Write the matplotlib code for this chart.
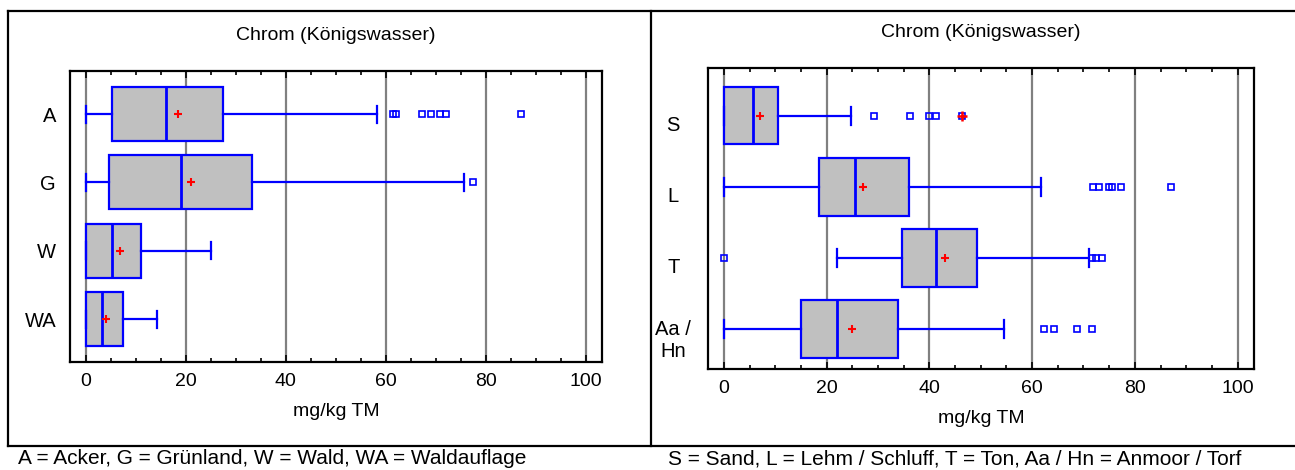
import numpy as np
import matplotlib
matplotlib.use("Agg")
import matplotlib.pyplot as plt
from matplotlib.lines import Line2D
from matplotlib.transforms import ScaledTranslation

plt.rcParams["font.family"] = ["Liberation Sans", "DejaVu Sans"]
plt.rcParams["font.size"] = 14

# ---------------------------------------------------------------------------
# Daten (mg/kg TM)
# ---------------------------------------------------------------------------
TITLE = "Chrom (Königswasser)"
XLABEL = "mg/kg TM"

# links: Nutzung
use_labels = ["A", "G", "W", "WA"]
use_whislo = [0.0, 0.0, 0.0, 0.0]
use_q1 = [5.3, 4.6, 0.0, 0.0]
use_med = [16.1, 19.0, 5.3, 3.3]
use_mean = [18.5, 21.1, 6.8, 4.1]
use_q3 = [27.4, 33.3, 11.0, 7.4]
use_whishi = [58.3, 75.7, 25.0, 14.3]
use_fliers = [[61.5, 62.0, 67.3, 69.1, 70.9, 72.0, 87.0], [77.4], [], []]
use_far = [[], [], [], []]

# rechts: Bodenart
soil_labels = ["S", "L", "T", "Aa /\nHn"]
soil_whislo = [0.0, 0.0, 22.0, 0.0]
soil_q1 = [0.0, 18.6, 34.6, 15.0]
soil_med = [5.6, 25.6, 41.3, 22.0]
soil_mean = [7.1, 27.1, 43.0, 24.9]
soil_q3 = [10.6, 36.1, 49.3, 33.9]
soil_whishi = [24.7, 61.7, 71.0, 54.6]
soil_fliers = [[29.3, 36.3, 40.0, 41.2, 46.4],
               [71.9, 73.0, 75.0, 75.5, 77.3, 87.0],
               [0.0, 71.7, 72.4, 73.7],
               [62.3, 64.3, 68.7, 71.7]]
soil_far = [[46.4], [], [], []]

CAPTION_LEFT = "A = Acker, G = Grünland, W = Wald, WA = Waldauflage"
CAPTION_RIGHT = "S = Sand, L = Lehm / Schluff, T = Ton, Aa / Hn = Anmoor / Torf"

BLUE = "#0000FF"
GRAY = "#808080"
W, H = 1295, 470


def px_axes(fig, left, top, right, bottom):
    return fig.add_axes([left / W, 1 - bottom / H, (right - left) / W, (bottom - top) / H])


def draw_panel(ax, labels, whislo, q1, med, mean, q3, whishi, fliers, far,
               ylim, width, ypad, ha, ylab_shift=0):
    stats = []
    for i in range(len(labels)):
        stats.append(dict(whislo=whislo[i], q1=q1[i], med=med[i], mean=mean[i],
                          q3=q3[i], whishi=whishi[i], fliers=fliers[i], label=labels[i]))
    pos = np.arange(len(labels))
    for x in range(0, 101, 20):
        ax.axvline(x, color=GRAY, lw=1.6, zorder=0)
    ax.bxp(stats, positions=pos, orientation="horizontal", widths=width,
           patch_artist=True, showmeans=True, capwidths=0.25,
           boxprops=dict(facecolor="#C0C0C0", edgecolor=BLUE, lw=1.6),
           medianprops=dict(color=BLUE, lw=2),
           whiskerprops=dict(color=BLUE, lw=1.6),
           capprops=dict(color=BLUE, lw=1.6),
           meanprops=dict(marker="+", markeredgecolor="red", markersize=6, mew=1.5),
           flierprops=dict(marker="s", markerfacecolor="none", markeredgecolor=BLUE,
                           markersize=4, mew=1.2))
    for i, vals in enumerate(far):
        if vals:
            ax.plot(vals, [pos[i]] * len(vals), ls="none", marker="+",
                    color="red", markersize=7, mew=1.8, zorder=5)
    ax.set_xlim(-3.1, 103.2)
    ax.set_ylim(*ylim)
    ax.set_xticks(range(0, 101, 20))
    ax.set_xticks(range(0, 101, 5), minor=True)
    ax.tick_params(axis="x", which="both", direction="in", top=True, bottom=True,
                   width=1.2, pad=8, labelsize=14)
    ax.tick_params(axis="x", which="major", length=5)
    ax.tick_params(axis="x", which="minor", length=3)
    ax.tick_params(axis="y", length=0, pad=ypad, labelsize=14.5)
    shift = ScaledTranslation(0, -ylab_shift / 100, fig.dpi_scale_trans)
    for t in ax.get_yticklabels():
        t.set_horizontalalignment(ha)
        t.set_transform(t.get_transform() + shift)
    for s in ax.spines.values():
        s.set_linewidth(1.6)
    ax.set_xlabel(XLABEL, fontsize=14, labelpad=9)
    ax.set_title(TITLE, fontsize=14, pad=22)


fig = plt.figure(figsize=(W / 100, H / 100), dpi=100)

ax1 = px_axes(fig, 70, 71, 602, 362)
draw_panel(ax1, use_labels, use_whislo, use_q1, use_med, use_mean, use_q3,
           use_whishi, use_fliers, use_far, (3.625, -0.63), 0.79, 10, "right")

ax2 = px_axes(fig, 708, 68, 1254, 369)
draw_panel(ax2, soil_labels, soil_whislo, soil_q1, soil_med, soil_mean, soil_q3,
           soil_whishi, soil_fliers, soil_far, (3.56, -0.67), 0.81, 25, "center",
           ylab_shift=8)

# Rahmen um beide Grafiken
def fline(xs, ys):
    fig.add_artist(Line2D([x / W for x in xs], [1 - y / H for y in ys],
                          color="black", lw=1.6, transform=fig.transFigure))

fline([8, 8], [10.5, 446])
fline([8, W], [10.5, 10.5])
fline([8, W], [446, 446])
fline([651, 651], [10.5, 446])

fig.text(18 / W, 1 - 459 / H, CAPTION_LEFT, fontsize=15, va="center", ha="left")
fig.text(668 / W, 1 - 459 / H, CAPTION_RIGHT, fontsize=15, va="center", ha="left")

fig.savefig("out.png", dpi=100)
